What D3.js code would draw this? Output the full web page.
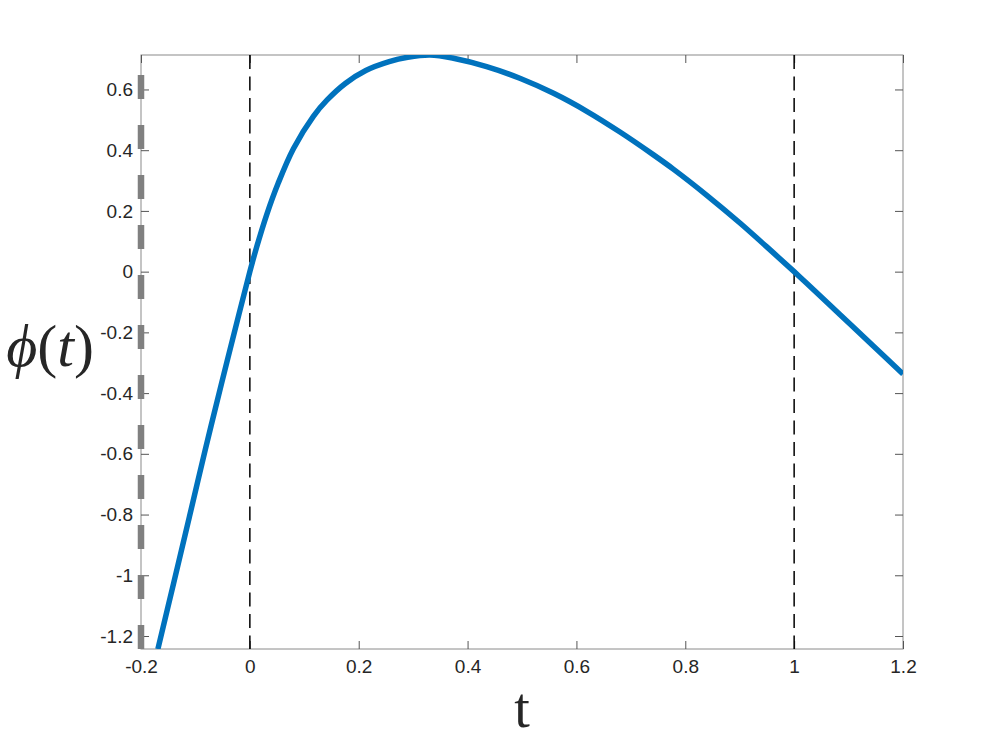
<!DOCTYPE html>
<html>
<head>
<meta charset="utf-8">
<script src="https://cdn.jsdelivr.net/npm/d3@7"></script>
<style>
  body { margin: 0; background: #fff; }
</style>
</head>
<body>
<script>
//Curve values
var tVals = [-0.169, -0.140, -0.111, -0.082, -0.052, -0.020, 0.000, 0.012, 0.031, 0.052,
             0.080, 0.117, 0.142, 0.176, 0.213, 0.256, 0.290, 0.331, 0.374, 0.435,
             0.496, 0.558, 0.619, 0.680, 0.741, 0.778, 0.839, 0.901, 0.962, 1.000,
             1.023, 1.084, 1.145, 1.200];
var phiVals = [-1.243, -1.026, -0.807, -0.587, -0.368, -0.140, 0.000, 0.078, 0.188, 0.291,
               0.405, 0.5125, 0.5655, 0.6206, 0.6625, 0.6917, 0.706, 0.7135, 0.7028, 0.6753,
               0.6369, 0.5873, 0.5281, 0.4598, 0.3854, 0.3377, 0.2523, 0.1593, 0.0617, 0.000,
               -0.0382, -0.1410, -0.2440, -0.3370];

//Axis limits and ticks
var xLimits = [-0.2, 1.2];
var yLimits = [-1.2428, 0.7135];
var xTicks = [-0.2, 0, 0.2, 0.4, 0.6, 0.8, 1, 1.2];
var xTickLabels = ["-0.2", "0", "0.2", "0.4", "0.6", "0.8", "1", "1.2"];
var yTicks = [-1.2, -1, -0.8, -0.6, -0.4, -0.2, 0, 0.2, 0.4, 0.6];
var yTickLabels = ["-1.2", "-1", "-0.8", "-0.6", "-0.4", "-0.2", "0", "0.2", "0.4", "0.6"];

//Vertical reference lines
var blackLines = [0, 1];
var grayLine = [-0.2];

//Define Margin
var margin = {left: 141, right: 94, top: 55, bottom: 98},
    width = 997 - margin.left - margin.right,
    height = 747 - margin.top - margin.bottom;

//Define main SVG
var svgRoot = d3.select("body")
    .append("svg")
    .attr("width", 997)
    .attr("height", 747);

svgRoot.append("rect")
    .attr("width", 997)
    .attr("height", 747)
    .attr("fill", "#fff");

var svg = svgRoot.append("g")
    .attr("transform", "translate(" + margin.left + "," + margin.top + ")");

//Scales
var x = d3.scaleLinear().domain(xLimits).range([0, width]);
var y = d3.scaleLinear().domain(yLimits).range([height, 0]);

svgRoot.append("defs").append("clipPath")
    .attr("id", "plotArea")
    .append("rect")
    .attr("width", width)
    .attr("height", height);

//Box
svg.append("rect")
    .attr("width", width)
    .attr("height", height)
    .attr("fill", "none")
    .attr("stroke", "#8a8a8a")
    .attr("stroke-width", 1);

//Axes with ticks pointing inward
function styleAxis(g) {
    g.select(".domain").remove();
    g.selectAll(".tick line").attr("stroke", "#555").attr("stroke-width", 1);
    g.selectAll(".tick text")
        .attr("fill", "#262626")
        .style("font-family", "'Liberation Sans', Arial, sans-serif")
        .style("font-size", "19px");
}

svg.append("g")
    .attr("transform", "translate(0," + height + ")")
    .call(d3.axisBottom(x).tickValues(xTicks).tickSizeInner(-8).tickSizeOuter(0).tickPadding(11)
        .tickFormat(function(d, i) { return xTickLabels[i]; }))
    .call(styleAxis);

svg.append("g")
    .call(d3.axisTop(x).tickValues(xTicks).tickSizeInner(-8).tickSizeOuter(0).tickFormat(""))
    .call(styleAxis);

svg.append("g")
    .call(d3.axisLeft(y).tickValues(yTicks).tickSizeInner(-8).tickSizeOuter(0).tickPadding(8)
        .tickFormat(function(d, i) { return yTickLabels[i]; }))
    .call(styleAxis);

svg.append("g")
    .attr("transform", "translate(" + width + ",0)")
    .call(d3.axisRight(y).tickValues(yTicks).tickSizeInner(-8).tickSizeOuter(0).tickFormat(""))
    .call(styleAxis);

//Thick gray dashed line (drawn from the bottom up)
svg.selectAll(".grayLine")
    .data(grayLine)
    .enter().append("line")
    .attr("class", "grayLine")
    .attr("x1", function(d) { return x(d); })
    .attr("x2", function(d) { return x(d); })
    .attr("y1", height)
    .attr("y2", 0)
    .attr("stroke", "#808080")
    .attr("stroke-width", 6.5)
    .attr("stroke-dasharray", "24,26");

//Black dashed lines
svg.selectAll(".blackLine")
    .data(blackLines)
    .enter().append("line")
    .attr("class", "blackLine")
    .attr("x1", function(d) { return x(d); })
    .attr("x2", function(d) { return x(d); })
    .attr("y1", 0)
    .attr("y2", height)
    .attr("stroke", "#000")
    .attr("stroke-width", 1.5)
    .attr("stroke-dasharray", "14,7.5");

//Curve
var points = tVals.map(function(t, i) { return [t, phiVals[i]]; });

var line = d3.line()
    .x(function(d) { return x(d[0]); })
    .y(function(d) { return y(d[1]); })
    .curve(d3.curveCatmullRom.alpha(0.5));

svg.append("path")
    .datum(points)
    .attr("clip-path", "url(#plotArea)")
    .attr("d", line)
    .attr("fill", "none")
    .attr("stroke", "#0072BD")
    .attr("stroke-width", 5.5);

//Axis labels
svgRoot.append("text")
    .attr("x", 522)
    .attr("y", 727)
    .attr("text-anchor", "middle")
    .style("font-family", "'Liberation Serif', 'DejaVu Serif', serif")
    .style("font-size", "56px")
    .attr("fill", "#262626")
    .text("t");

var yLabel = svgRoot.append("text")
    .attr("x", 94)
    .attr("y", 366)
    .attr("text-anchor", "end")
    .style("font-family", "'Liberation Serif', 'DejaVu Serif', serif")
    .style("font-size", "60px")
    .attr("fill", "#262626");
yLabel.append("tspan").style("font-style", "italic").text("\u03D5");
yLabel.append("tspan").text("(");
yLabel.append("tspan").style("font-style", "italic").text("t");
yLabel.append("tspan").text(")");
</script>
</body>
</html>
